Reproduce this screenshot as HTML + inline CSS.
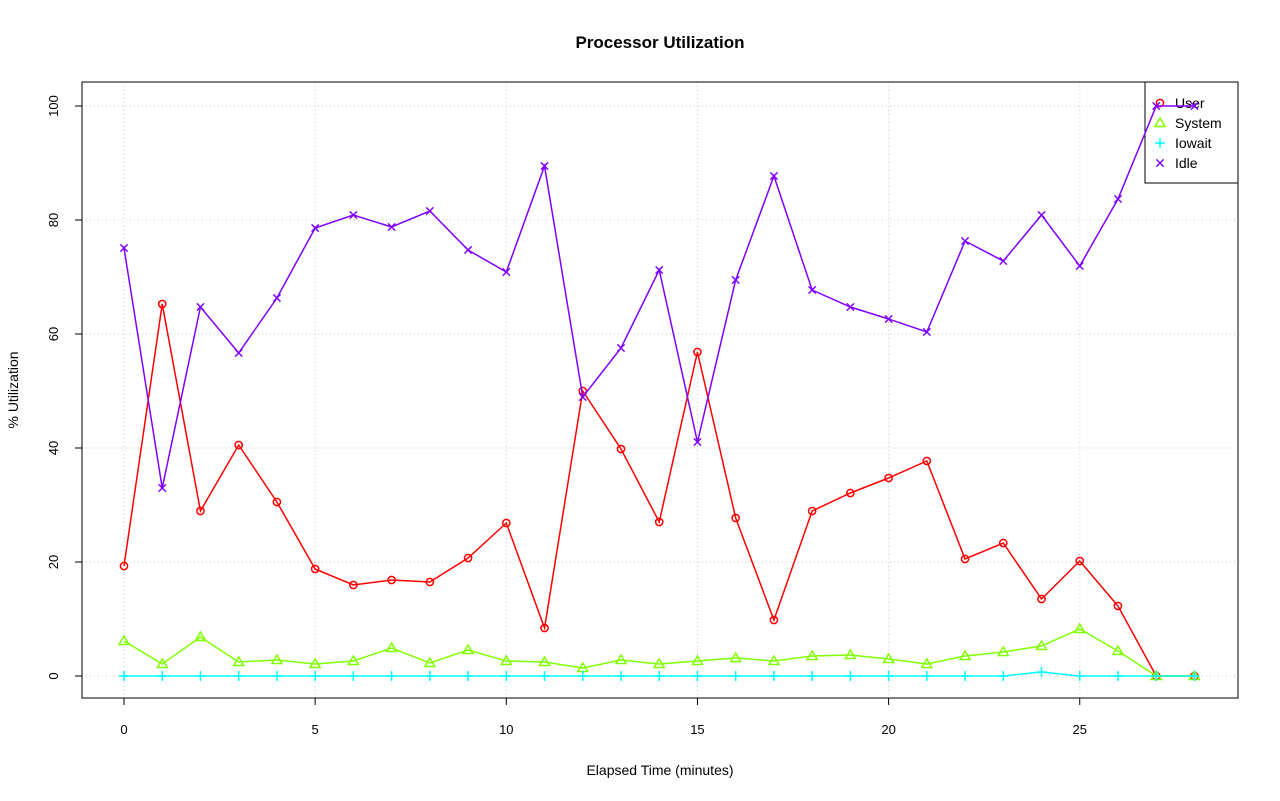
<!DOCTYPE html>
<html><head><meta charset="utf-8"><style>
html,body{margin:0;padding:0;background:#fff;}
svg{display:block;font-family:"Liberation Sans",sans-serif;}
</style></head><body>
<svg id="s" width="1280" height="801" viewBox="0 0 1280 801" xmlns="http://www.w3.org/2000/svg">
<rect width="1280" height="801" fill="#fff"/>
<g id="grid" stroke="#c8c8c8" stroke-width="1" stroke-dasharray="1,3"></g>
<rect x="1145" y="82" width="93" height="101" fill="#fff" stroke="#000"/>
<g id="legend" font-size="14"></g>
<g id="series"></g>
<rect x="82" y="82" width="1156" height="616" fill="none" stroke="#000" stroke-width="1"/>
<g id="axes" stroke="#000" font-size="13" fill="#000"></g>
<text x="660" y="48" text-anchor="middle" font-size="17" font-weight="bold">Processor Utilization</text>
<text x="660" y="775" text-anchor="middle" font-size="14">Elapsed Time (minutes)</text>
<text transform="translate(18,390) rotate(-90)" text-anchor="middle" font-size="14">% Utilization</text>
</svg>
<script>
var NS="http://www.w3.org/2000/svg";
function el(p,t,a,txt){var e=document.createElementNS(NS,t);for(var k in a)e.setAttribute(k,a[k]);if(txt!=null)e.textContent=txt;p.appendChild(e);return e;}
function X(i){return 124+i*38.23;}
var grid=document.getElementById('grid'),ax=document.getElementById('axes'),ser=document.getElementById('series'),leg=document.getElementById('legend');
for(var v=0;v<=25;v+=5){var x=X(v);el(grid,'line',{x1:x,y1:82,x2:x,y2:698});el(ax,'line',{x1:x,y1:698,x2:x,y2:705});el(ax,'text',{x:x,y:734,'text-anchor':'middle',stroke:'none'},v);}
el(ax,'line',{x1:X(0),y1:698,x2:X(25),y2:698});
for(var v=0;v<=100;v+=20){var y=676-v*5.7;el(grid,'line',{x1:82,y1:y,x2:1238,y2:y});el(ax,'line',{x1:82,y1:y,x2:75,y2:y});el(ax,'text',{transform:'translate(58,'+y+') rotate(-90)','text-anchor':'middle',stroke:'none'},v);}
el(ax,'line',{x1:82,y1:676,x2:82,y2:106});
var user=[566,304,511,445,502,569,585,580,582,558,523,628,391,449,522,352,518,620,511,493,478,461,559,543,599,561,606,676,676];
var idle=[248,488,307,353,298,228,215,227,211,250,272,166,397,348,270,442,280,176,290,307,319,332,241,261,215,266,199,106,106];
var sys=[641,664,637,662,660,664,661,648,663,650,661,662,668,660,664,661,658,661,656,655,659,664,656,652,646,629,651,676,676];
var io=[];for(var i=0;i<29;i++)io.push(676);io[24]=672;
function mark(g,type,x,y,c){
 if(type=='o')el(g,'circle',{cx:x,cy:y,r:3.6,fill:'none',stroke:c,'stroke-width':1.5});
 else if(type=='t')el(g,'polygon',{points:(x)+','+(y-5)+' '+(x-5)+','+(y+3.5)+' '+(x+5)+','+(y+3.5),fill:'none',stroke:c,'stroke-width':1.5});
 else if(type=='+'){el(g,'line',{x1:x-5,y1:y,x2:x+5,y2:y,stroke:c,'stroke-width':1.5});el(g,'line',{x1:x,y1:y-5,x2:x,y2:y+5,stroke:c,'stroke-width':1.5});}
 else {el(g,'line',{x1:x-3.6,y1:y-3.6,x2:x+3.6,y2:y+3.6,stroke:c,'stroke-width':1.5});el(g,'line',{x1:x-3.6,y1:y+3.6,x2:x+3.6,y2:y-3.6,stroke:c,'stroke-width':1.5});}
}
function series(d,type,c){var pts=d.map(function(y,i){return X(i)+','+y;}).join(' ');el(ser,'polyline',{points:pts,fill:'none',stroke:c,'stroke-width':1.5});d.forEach(function(y,i){mark(ser,type,X(i),y,c);});}
series(user,'o','#ff0000');series(sys,'t','#80ff00');series(io,'+','#00ffff');series(idle,'x','#8000ff');
var L=[['User','o','#ff0000'],['System','t','#80ff00'],['Iowait','+','#00ffff'],['Idle','x','#8000ff']];
L.forEach(function(l,i){var y=103+i*20;mark(leg,l[1],1160,y,l[2]);el(leg,'text',{x:1175,y:y+5},l[0]);});
</script>
</body></html>
